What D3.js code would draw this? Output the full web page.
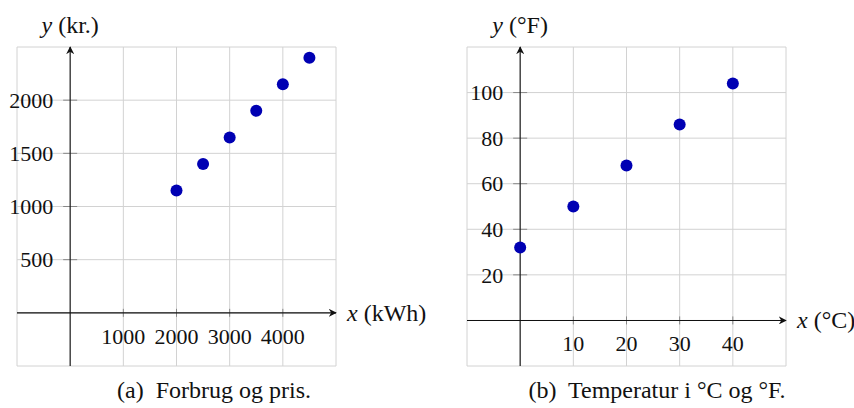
<!DOCTYPE html>
<html>
<head>
<meta charset="utf-8">
<script src="https://cdn.jsdelivr.net/npm/d3@7"></script>
<style>
  body { margin: 0; background: #fff; }
  svg { display: block; }
  text { font-family: "Liberation Serif", "Times New Roman", serif; fill: #111; }
</style>
</head>
<body>
<svg id="chart" width="854" height="408"></svg>
<script>
// panel (a): electricity use and price
const kwh = [2000, 2500, 3000, 3500, 4000, 4500];
const price = [1150, 1400, 1650, 1900, 2150, 2400];
const kwhTicks = [1000, 2000, 3000, 4000];
const priceTicks = [500, 1000, 1500, 2000];

// panel (b): celsius vs fahrenheit
const celsius = [0, 10, 20, 30, 40];
const fahrenheit = [32, 50, 68, 86, 104];
const celsiusTicks = [10, 20, 30, 40];
const fahrenheitTicks = [20, 40, 60, 80, 100];

const svg = d3.select('#chart');

svg.append('defs').append('marker')
  .attr('id', 'arrow')
  .attr('viewBox', '0 0 10 10')
  .attr('refX', 9)
  .attr('refY', 5)
  .attr('markerWidth', 8)
  .attr('markerHeight', 8)
  .attr('markerUnits', 'userSpaceOnUse')
  .attr('orient', 'auto')
  .append('path')
  .attr('d', 'M0,0 L10,5 L0,10 L3,5 Z')
  .attr('fill', '#111');

function panel(opt) {
  const x = d3.scaleLinear().domain(opt.xDomain).range([opt.left, opt.left + 319]);
  const y = d3.scaleLinear().domain(opt.yDomain).range([366, 47]);
  const g = svg.append('g');

  // grid
  const xGrid = d3.range(opt.xDomain[0], opt.xDomain[1] + 1e-9, opt.xStep);
  const yGrid = d3.range(opt.yDomain[0], opt.yDomain[1] + 1e-9, opt.yStep);
  g.selectAll('.vgrid').data(xGrid).join('line')
    .attr('x1', d => x(d)).attr('x2', d => x(d))
    .attr('y1', y.range()[0]).attr('y2', y.range()[1])
    .attr('stroke', '#d2d2d2').attr('stroke-width', 1);
  g.selectAll('.hgrid').data(yGrid).join('line')
    .attr('y1', d => y(d)).attr('y2', d => y(d))
    .attr('x1', x.range()[0]).attr('x2', x.range()[1])
    .attr('stroke', '#d2d2d2').attr('stroke-width', 1);

  // ticks
  g.selectAll('.xt').data(opt.xTicks).join('line')
    .attr('x1', d => x(d)).attr('x2', d => x(d))
    .attr('y1', y(0) - 4).attr('y2', y(0) + 4)
    .attr('stroke', '#888');
  g.selectAll('.yt').data(opt.yTicks).join('line')
    .attr('y1', d => y(d)).attr('y2', d => y(d))
    .attr('x1', x(0) - 7).attr('x2', x(0) + 7)
    .attr('stroke', '#888');

  // axes
  g.append('line')
    .attr('x1', x.range()[0]).attr('x2', x.range()[1])
    .attr('y1', y(0)).attr('y2', y(0))
    .attr('stroke', '#111').attr('stroke-width', 1.1)
    .attr('marker-end', 'url(#arrow)');
  g.append('line')
    .attr('x1', x(0)).attr('x2', x(0))
    .attr('y1', y.range()[0]).attr('y2', y.range()[1])
    .attr('stroke', '#111').attr('stroke-width', 1.1)
    .attr('marker-end', 'url(#arrow)');

  // tick labels
  g.selectAll('.xl').data(opt.xTicks).join('text')
    .attr('x', d => x(d))
    .attr('y', y(0) + 31)
    .attr('text-anchor', 'middle')
    .style('font-size', '22px')
    .text(d => d);
  g.selectAll('.yl').data(opt.yTicks).join('text')
    .attr('x', x(0) - 17)
    .attr('y', d => y(d))
    .attr('dy', '0.35em')
    .attr('text-anchor', 'end')
    .style('font-size', '22px')
    .text(d => d);

  // points
  g.selectAll('.dot').data(opt.xs).join('circle')
    .attr('cx', d => x(d))
    .attr('cy', (d, i) => y(opt.ys[i]))
    .attr('r', 6)
    .attr('fill', '#0000b3');

  // axis labels
  const yl = g.append('text')
    .attr('x', x(0)).attr('y', 33)
    .attr('text-anchor', 'middle')
    .style('font-size', '24px');
  yl.append('tspan').style('font-style', 'italic').text('y');
  yl.append('tspan').text(' ' + opt.yUnit);

  const xl = g.append('text')
    .attr('x', x.range()[1] + 11).attr('y', y(0))
    .attr('dy', '0.33em')
    .style('font-size', '24px');
  xl.append('tspan').style('font-style', 'italic').text('x');
  xl.append('tspan').text(' ' + opt.xUnit);

  // caption
  g.append('text')
    .attr('x', opt.captionX).attr('y', 398)
    .attr('text-anchor', 'middle')
    .style('font-size', '24px')
    .attr('xml:space', 'preserve')
    .text(opt.caption);
}

panel({
  left: 17, xDomain: [-1000, 5000], yDomain: [-500, 2500], xStep: 1000, yStep: 500,
  xTicks: kwhTicks, yTicks: priceTicks, xs: kwh, ys: price,
  xUnit: '(kWh)', yUnit: '(kr.)', caption: '(a)  Forbrug og pris.', captionX: 214
});

panel({
  left: 467, xDomain: [-10, 50], yDomain: [-20, 120], xStep: 10, yStep: 20,
  xTicks: celsiusTicks, yTicks: fahrenheitTicks, xs: celsius, ys: fahrenheit,
  xUnit: '(°C)', yUnit: '(°F)', caption: '(b)  Temperatur i °C og °F.', captionX: 657
});
</script>
</body>
</html>
